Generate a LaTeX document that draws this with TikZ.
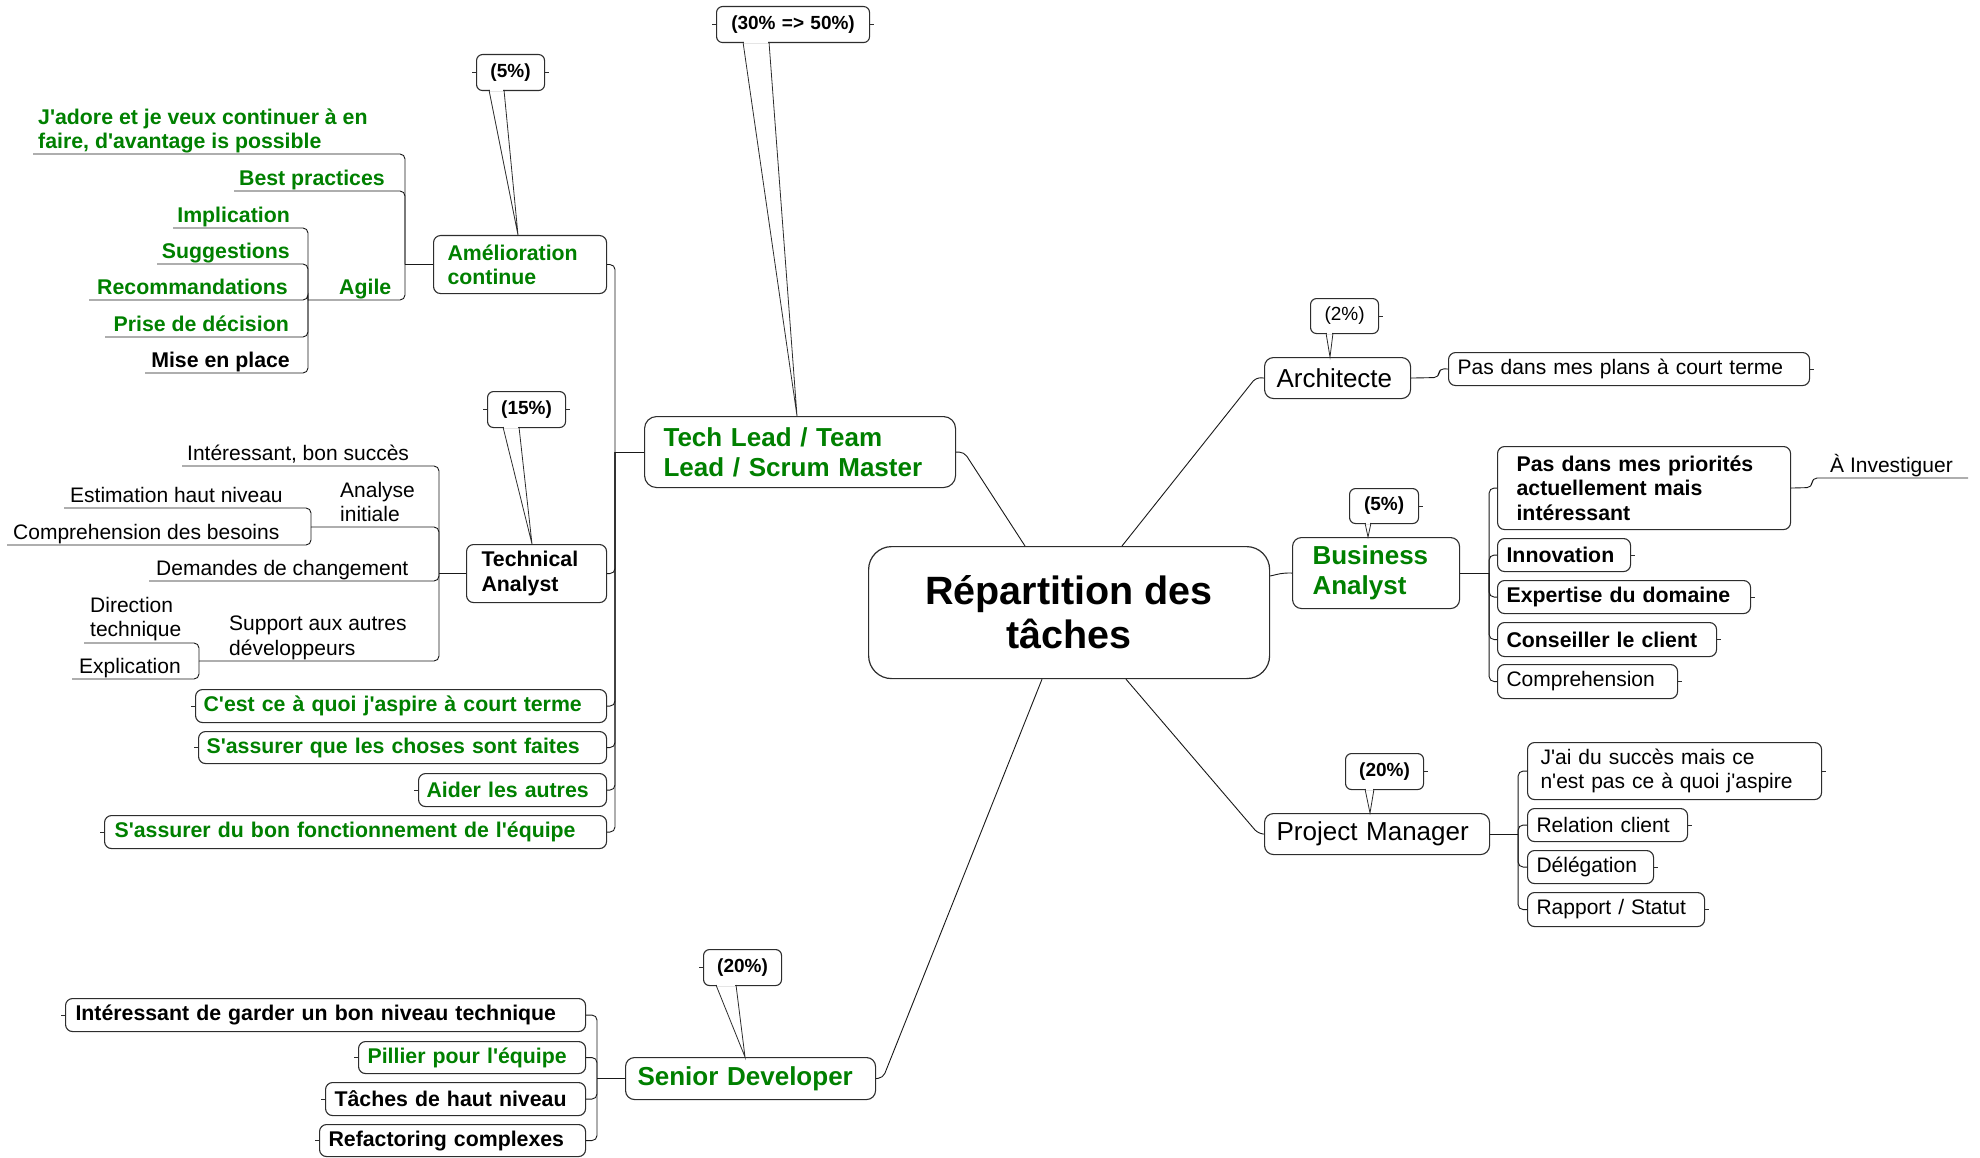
\documentclass[tikz,border=0pt]{standalone}
\usepackage{fontspec}
\setmainfont{Liberation Sans}[Ligatures=TeXOff]
\usetikzlibrary{calc}
\definecolor{xgreen}{RGB}{0,128,0}
\definecolor{xbord}{RGB}{45,45,45}
\definecolor{xline}{RGB}{25,25,25}
\newcommand{\fSub}{\fontsize{21}{24.5}\selectfont}
\newcommand{\fSubB}{\fontsize{21.3}{24.5}\selectfont\bfseries}
\newcommand{\fMain}{\fontsize{26}{30}\selectfont}
\newcommand{\fCen}{\fontsize{39.5}{44}\selectfont\bfseries}
\newcommand{\fPct}{\fontsize{19}{22}\selectfont}
% box: name, x1, y1, x2, y2, left pad, style, text
\newcommand{\bx}[8]{%
  \pgfmathsetmacro{\bxw}{#4-#2}%
  \pgfmathsetmacro{\bxh}{#5-#3}%
  \pgfmathsetmacro{\bxt}{#4-#2-2*#6}%
  \node[#7, minimum width=\bxw pt, minimum height=\bxh pt, text width=\bxt pt,
        inner xsep=#6 pt, inner ysep=0pt, anchor=north west] (#1) at (#2,#3) {#8};%
}
% callout tail: left x, right x, bottom y of label, apex x, apex y
\newcommand{\tailc}[5]{%
  \fill[white] (#1+0.8,#3-1.6) rectangle (#2-0.8,#3+0.6);%
  \draw[tail] (#1,#3) -- (#4,#5) -- (#2,#3);%
}
\tikzset{
  boxbase/.style={draw=xbord, line width=1.1pt, fill=white, align=left},
  cbox/.style={boxbase, rounded corners=23pt, line width=1.2pt, align=center, font=\fCen, text=black},
  mbox/.style={boxbase, rounded corners=9pt, font=\fMain, text=black},
  mboxg/.style={boxbase, rounded corners=9pt, font=\fMain\bfseries, text=xgreen},
  sbox/.style={boxbase, rounded corners=7pt, font=\fSub, text=black},
  sboxb/.style={boxbase, rounded corners=7pt, font=\fSubB, text=black},
  sboxg/.style={boxbase, rounded corners=7pt, font=\fSubB, text=xgreen},
  pbox/.style={boxbase, rounded corners=6pt, align=center, font=\fPct\bfseries, text=black},
  pboxr/.style={boxbase, rounded corners=6pt, align=center, font=\fPct, text=black},
  ulk/.style={inner sep=0pt, font=\fSub, text=black, align=left},
  ulb/.style={inner sep=0pt, font=\fSubB, text=black, align=left},
  ulg/.style={inner sep=0pt, font=\fSubB, text=xgreen, align=left},
  conn/.style={draw=xline, line width=0.9pt, rounded corners=5pt},
  tail/.style={draw=xbord, line width=0.8pt},
  stub/.style={draw=xbord, line width=0.8pt},
}
\begin{document}
\begin{tikzpicture}[x=1pt,y=-1pt]
\useasboundingbox (0,0) rectangle (1980,1158);

% ---------- central and main topics ----------
\node[cbox, minimum width=401pt, minimum height=132pt, anchor=north west] (central) at (868,546) {Répartition des\\tâches};
\bx{tl}{644}{416}{955}{487}{19}{mboxg, rounded corners=12pt}{Tech Lead / Team\\Lead / Scrum Master}
\bx{arch}{1264}{357}{1410}{398}{12}{mbox}{Architecte}
\bx{ba}{1292}{537}{1459}{608}{20}{mboxg}{Business\\Analyst}
\bx{pm}{1264}{813}{1489}{854}{12}{mbox}{Project Manager}
\bx{sd}{625}{1057}{875}{1099}{12}{mboxg}{Senior Developer}

% ---------- percentage callouts ----------
\bx{p3050}{716}{6}{869}{42}{4}{pbox}{(30\% => 50\%)}
\bx{p5a}{476}{54}{544}{90}{4}{pbox}{(5\%)}
\bx{p15}{487}{391}{565}{427}{4}{pbox}{(15\%)}
\bx{p2}{1310}{298}{1378}{333}{4}{pboxr}{(2\%)}
\bx{p5b}{1349}{488}{1418}{523}{4}{pbox}{(5\%)}
\bx{p20a}{1345}{753}{1423}{789}{4}{pbox}{(20\%)}
\bx{p20b}{703}{949}{781}{985}{4}{pbox}{(20\%)}

% ---------- Tech Lead children ----------
\bx{amel}{433}{235}{606}{293}{14}{sboxg}{Amélioration\\continue}
\bx{ta}{466}{544}{606}{602}{15}{sboxb}{Technical\\Analyst}
\bx{cest}{195}{689}{606}{722}{8}{sboxg}{C'est ce à quoi j'aspire à court terme}
\bx{sassq}{198}{731}{606}{763}{8}{sboxg}{S'assurer que les choses sont faites}
\bx{aider}{418}{773}{606}{806}{8}{sboxg}{Aider les autres}
\bx{sassb}{104}{815}{606}{848}{10}{sboxg}{S'assurer du bon fonctionnement de l'équipe}

% Amélioration continue children
\node[ulg, anchor=west] (jadore) at (38,131) {J'adore et je veux continuer à en\\faire, d'avantage is possible};
\node[ulg, anchor=base east] (bp) at (385,185.5) {Best practices};
\node[ulg, anchor=base west] (agile) at (339,294.5) {Agile};
\node[ulg, anchor=base east] (impl) at (290,222.5) {Implication};
\node[ulg, anchor=base east] (sugg) at (290,258.5) {Suggestions};
\node[ulg, anchor=base east] (reco) at (288,294.5) {Recommandations};
\node[ulg, anchor=base east] (prise) at (289,331.5) {Prise de décision};
\node[ulb, anchor=base east] (mise) at (290,367.5) {Mise en place};
\coordinate (jadore-u) at (33,154);
\coordinate (bp-u) at (234,191);
\coordinate (agile-u) at (308,300);
\coordinate (impl-u) at (173,228);
\coordinate (sugg-u) at (157,264);
\coordinate (reco-u) at (89,300);
\coordinate (prise-u) at (105,337);
\coordinate (mise-u) at (145,373);

% Technical Analyst children
\node[ulk, anchor=base west] (inter) at (187,460.5) {Intéressant, bon succès};
\node[ulk, anchor=west] (analyse) at (340,502) {Analyse\\initiale};
\node[ulk, anchor=base west] (estim) at (70,502.5) {Estimation haut niveau};
\node[ulk, anchor=base west] (compr) at (13,539.5) {Comprehension des besoins};
\node[ulk, anchor=base west] (dem) at (156,575.5) {Demandes de changement};
\node[ulk, anchor=west] (support) at (229,638) {Support aux autres\\développeurs};
\node[ulk, anchor=west] (direction) at (90,619) {Direction\\technique};
\node[ulk, anchor=base west] (expl) at (79,673.5) {Explication};
\coordinate (inter-u) at (182,466);
\coordinate (analyse-u) at (311,527);
\coordinate (estim-u) at (64,508);
\coordinate (compr-u) at (7,545);
\coordinate (dem-u) at (149,581);
\coordinate (support-u) at (199,661);
\coordinate (direction-u) at (84,643);
\coordinate (expl-u) at (72,679);

% ---------- right side children ----------
\bx{pdp}{1448}{352}{1809}{385}{9}{sbox}{Pas dans mes plans à court terme}
\bx{prio}{1497}{446}{1790}{529}{19}{sboxb}{Pas dans mes priorités\\actuellement mais\\intéressant}
\bx{innov}{1497}{538}{1630}{571}{9}{sboxb}{Innovation}
\bx{expert}{1497}{580}{1750}{613}{9}{sboxb}{Expertise du domaine}
\bx{cons}{1497}{622}{1716}{656}{9}{sboxb}{Conseiller le client}
\bx{compb}{1497}{664}{1677}{698}{9}{sbox}{Comprehension}
\node[ulk, anchor=base west] (inv) at (1830,472.5) {À Investiguer};
\coordinate (inv-u) at (1968,478);

\bx{jai}{1527}{742}{1821}{799}{13}{sbox}{J'ai du succès mais ce\\n'est pas ce à quoi j'aspire}
\bx{rel}{1527}{808}{1687}{841}{9}{sbox}{Relation client}
\bx{del}{1527}{850}{1653}{883}{9}{sbox}{Délégation}
\bx{rap}{1527}{892}{1704}{926}{9}{sbox}{Rapport / Statut}

% ---------- Senior Developer children ----------
\bx{igard}{65}{998}{585}{1031}{10}{sboxb}{Intéressant de garder un bon niveau technique}
\bx{pill}{358}{1041}{585}{1073}{9}{sboxg}{Pillier pour l'équipe}
\bx{tach}{325}{1082}{585}{1115}{9}{sboxb}{Tâches de haut niveau}
\bx{refac}{319}{1124}{585}{1156}{9}{sboxb}{Refactoring complexes}

% ---------- main branch connectors ----------
\draw[conn] (tl.east) -- ++(8,0) -- ($(central.north west)+(157,0)$);
\draw[conn] ($(central.north west)+(254,0)$) -- (1256,377.5) -- (arch.west);
\draw[conn] ($(central.north east)+(0,30)$) -- (1283,573) -- (ba.west);
\draw[conn] ($(central.south west)+(258,0)$) -- (1258,833.5) -- (pm.west);
\draw[conn] ($(central.south west)+(174,0)$) -- (883,1078) -- (sd.east);

% Tech Lead tree
\draw[conn] (tl.west) -- ++(-29,0) coordinate (tlj);
\foreach \n in {amel,ta,cest,sassq,aider,sassb} \draw[conn] (tlj) |- (\n.east);
\draw[conn] (amel.west) -- ++(-28,0) coordinate (amj);
\foreach \n in {jadore,bp,agile} \draw[conn] (amj) |- (\n-u);
\foreach \n in {impl,sugg,reco,prise,mise} \draw[conn] (agile-u) |- (\n-u);
\draw[conn] (ta.west) -- ++(-27,0) coordinate (taj);
\foreach \n in {inter,analyse,dem,support} \draw[conn] (taj) |- (\n-u);
\foreach \n in {estim,compr} \draw[conn] (analyse-u) |- (\n-u);
\foreach \n in {direction,expl} \draw[conn] (support-u) |- (\n-u);

% right side trees
\draw[conn] (arch.east) -- (1439,377.5) -- (1439,368.5) -- (pdp.west);
\draw[conn] (ba.east) -- ++(29,0) coordinate (baj);
\foreach \n in {prio,innov,expert,cons,compb} \draw[conn] (baj) |- (\n.west);
\draw[conn] (prio.east) -- (1812,487.5) -- (1812,478) -- (inv-u);
\draw[conn] (pm.east) -- ++(28,0) coordinate (pmj);
\foreach \n in {jai,rel,del,rap} \draw[conn] (pmj) |- (\n.west);

% Senior Developer tree
\draw[conn] (sd.west) -- ++(-28,0) coordinate (sdj);
\foreach \n in {igard,pill,tach,refac} \draw[conn] (sdj) |- (\n.east);

% ---------- callout tails ----------
\tailc{743}{769}{42}{797}{416}
\tailc{489}{504}{90}{518}{235}
\tailc{503}{519}{427}{532}{544}
\tailc{1326}{1333}{333}{1330}{357}
\tailc{1365}{1371}{523}{1368}{537}
\tailc{1365}{1374}{789}{1370}{813}
\tailc{716}{736}{985}{745}{1057}

% ---------- small stubs ----------
\foreach \n in {p3050,p5a,p15,p20b,cest,sassq,aider,sassb,igard,pill,tach,refac}
  \draw[stub] (\n.west) -- ++(-4,0);
\foreach \n in {p3050,p5a,p15,p2,p5b,p20a,pdp,innov,expert,cons,compb,jai,rel,del,rap}
  \draw[stub] (\n.east) -- ++(4,0);
\end{tikzpicture}
\end{document}
